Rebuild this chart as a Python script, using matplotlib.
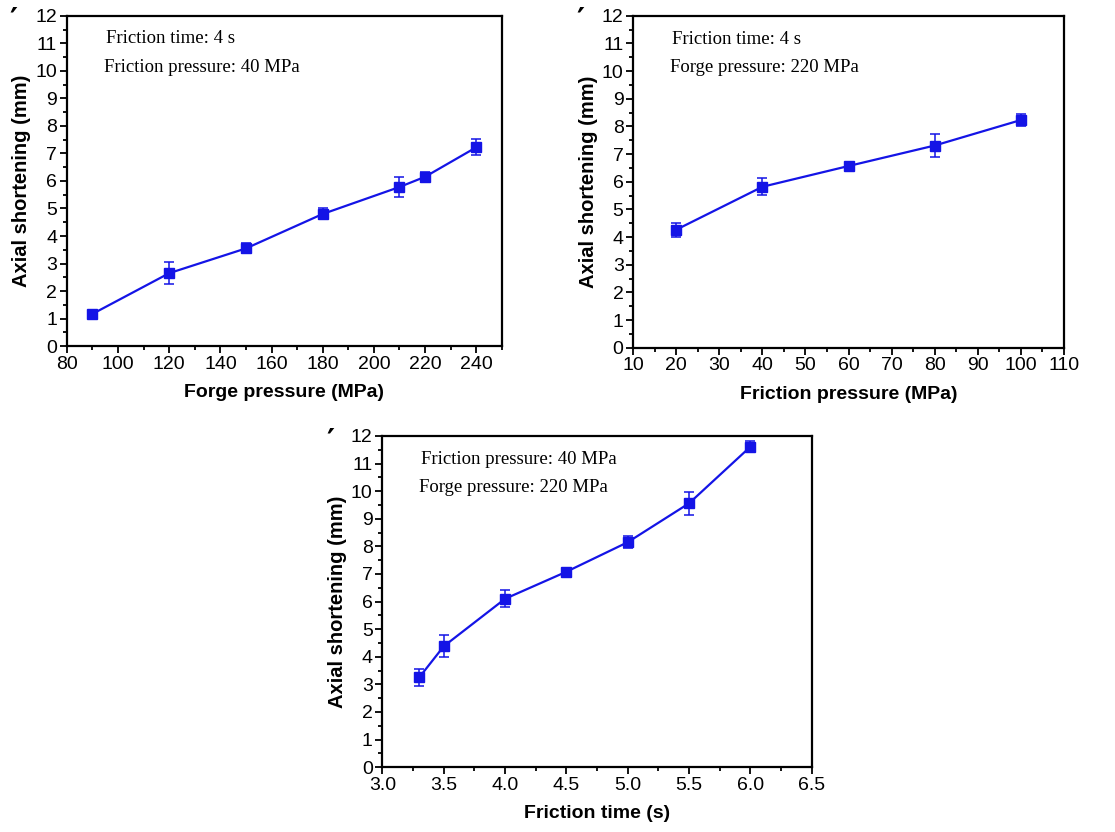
import matplotlib.pyplot as plt
from matplotlib.ticker import MultipleLocator

# panel (a): forge pressure
forge_p = [90, 120, 150, 180, 210, 220, 240]
short_a = [1.17, 2.65, 3.55, 4.80, 5.78, 6.15, 7.22]
err_a = [0.05, 0.40, 0.18, 0.20, 0.36, 0.18, 0.29]

# panel (b): friction pressure
fric_p = [20, 40, 60, 80, 100]
short_b = [4.27, 5.82, 6.57, 7.31, 8.23]
err_b = [0.25, 0.30, 0.05, 0.41, 0.23]

# panel (c): friction time
fric_t = [3.3, 3.5, 4.0, 4.5, 5.0, 5.5, 6.0]
short_c = [3.25, 4.38, 6.10, 7.08, 8.15, 9.56, 11.61]
err_c = [0.30, 0.40, 0.31, 0.05, 0.21, 0.42, 0.20]

notes_a = ["Friction time: 4 s", "Friction pressure: 40 MPa"]
notes_b = ["Friction time: 4 s", "Forge pressure: 220 MPa"]
notes_c = ["Friction pressure: 40 MPa", "Forge pressure: 220 MPa"]

blue = "#1414e6"
sans = "Liberation Sans"
serif = "Liberation Serif"

fig = plt.figure(figsize=(11.15, 8.32), dpi=100)

panels = [
    ([0.060, 0.584, 0.390, 0.397], forge_p, short_a, err_a, notes_a,
     (80, 250), 20, 10, "Forge pressure (MPa)", None),
    ([0.568, 0.582, 0.386, 0.399], fric_p, short_b, err_b, notes_b,
     (10, 110), 10, 5, "Friction pressure (MPa)", None),
    ([0.343, 0.078, 0.385, 0.398], fric_t, short_c, err_c, notes_c,
     (3.0, 6.5), 0.5, 0.25, "Friction time (s)", "%.1f"),
]

for rect, x, y, e, notes, xlim, maj, mnr, xlabel, fmt in panels:
    ax = fig.add_axes(rect)
    ax.errorbar(x, y, yerr=e, color=blue, marker="s", markersize=7.5,
                linewidth=1.6, elinewidth=1.1, capsize=3.5, capthick=1.1)
    ax.set_xlim(*xlim)
    ax.set_ylim(0, 12)
    ax.xaxis.set_major_locator(MultipleLocator(maj))
    ax.xaxis.set_minor_locator(MultipleLocator(mnr))
    ax.yaxis.set_major_locator(MultipleLocator(1))
    ax.yaxis.set_minor_locator(MultipleLocator(0.5))
    if fmt:
        ax.xaxis.set_major_formatter(plt.FormatStrFormatter(fmt))
    ax.tick_params(which="both", direction="out", top=False, right=False,
                   width=1.3, labelsize=14, pad=2)
    ax.tick_params(which="major", length=5)
    ax.tick_params(which="minor", length=3)
    for lab in ax.get_xticklabels() + ax.get_yticklabels():
        lab.set_fontfamily(sans)
    for s in ax.spines.values():
        s.set_linewidth(1.6)
    ax.set_xlabel(xlabel, fontsize=14, fontweight="bold", family=sans, labelpad=8)
    ax.set_ylabel("Axial shortening (mm)", fontsize=14.5, fontweight="bold",
                  family=sans, labelpad=3)
    ax.text(0.09, 0.93, notes[0], transform=ax.transAxes, fontsize=13.5,
            family=serif, va="center")
    ax.text(0.085, 0.843, notes[1], transform=ax.transAxes, fontsize=13.5,
            family=serif, va="center")
    ax.text(-0.122, 1.03, "\u2032", transform=ax.transAxes, fontsize=22,
            fontweight="bold", family="DejaVu Sans", ha="center", va="top")

fig.savefig("out.png", dpi=100)
